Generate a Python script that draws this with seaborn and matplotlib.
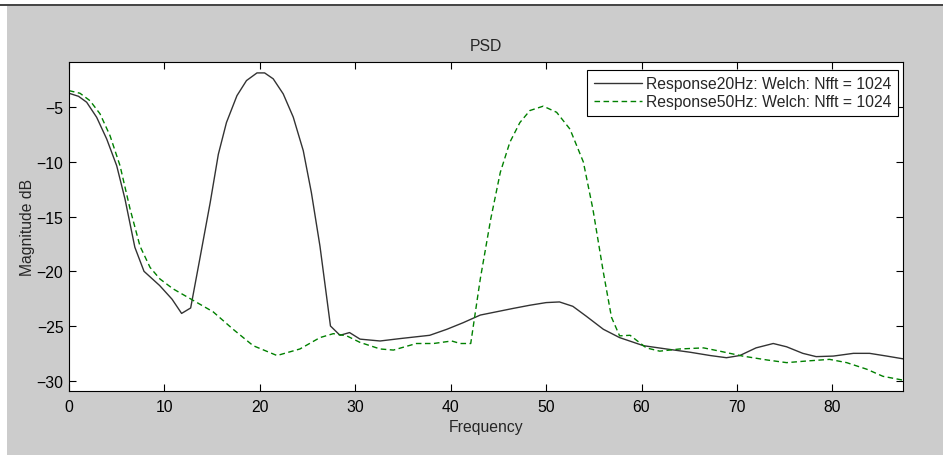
import numpy as np
import pandas as pd
import seaborn as sns
import matplotlib.pyplot as plt
from matplotlib.patches import Rectangle
from matplotlib.lines import Line2D

## DATA
freq_20 = [0, 1.0, 1.85, 2.9, 3.95, 5.0, 5.87, 6.9, 7.86, 9.5, 10.8, 11.8, 12.75,
           13.7, 14.8, 15.65, 16.5, 17.6, 18.6, 19.7, 20.5, 21.4, 22.45, 23.5,
           24.55, 25.4, 26.3, 27.4, 28.4, 29.4, 30.5, 32.6, 34.7, 37.8, 39.6,
           41.3, 43.1, 44.8, 46.5, 48.3, 50.0, 51.4, 52.8, 54.2, 56.0, 57.7,
           60.2, 62.6, 65.1, 67.2, 68.9, 70.3, 72.0, 73.8, 75.2, 76.9, 78.3,
           80.1, 82.2, 83.9, 85.7, 87.4]
psd_20 = [-3.72, -4.0, -4.54, -5.92, -7.9, -10.35, -13.4, -17.8, -20.0, -21.3,
          -22.55, -23.85, -23.35, -18.9, -13.7, -9.3, -6.4, -3.94, -2.56, -1.86,
          -1.86, -2.4, -3.78, -5.9, -8.97, -12.8, -17.7, -25.0, -25.85, -25.6,
          -26.2, -26.37, -26.15, -25.85, -25.3, -24.7, -24.0, -23.7, -23.4,
          -23.1, -22.86, -22.8, -23.2, -24.1, -25.3, -26.06, -26.8, -27.1,
          -27.4, -27.7, -27.9, -27.7, -27.0, -26.6, -26.9, -27.5, -27.8,
          -27.75, -27.5, -27.5, -27.75, -28.0]

freq_50 = [0, 1.15, 2.2, 3.25, 4.3, 5.35, 6.4, 7.44, 8.5, 9.53, 10.9, 12.7,
           15.1, 17.2, 19.3, 21.8, 24.2, 26.3, 27.7, 29.1, 30.5, 32.6, 34.0,
           36.4, 38.2, 40.1, 41.0, 42.1, 43.1, 44.2, 45.2, 46.2, 47.25, 48.3,
           49.7, 51.1, 52.5, 53.9, 54.9, 56.0, 56.85, 57.7, 58.8, 60.5, 61.9,
           64.0, 66.5, 68.2, 70.6, 73.1, 75.2, 77.3, 79.7, 81.5, 83.6, 85.3,
           87.4]
psd_50 = [-3.48, -3.72, -4.4, -5.6, -7.6, -10.35, -14.3, -17.7, -19.65, -20.7,
          -21.6, -22.5, -23.7, -25.3, -26.8, -27.7, -27.1, -26.06, -25.7,
          -25.9, -26.5, -27.1, -27.2, -26.6, -26.6, -26.37, -26.6, -26.6,
          -20.7, -15.2, -10.95, -8.2, -6.4, -5.3, -4.9, -5.46, -7.0, -10.0,
          -14.3, -20.1, -24.2, -25.9, -25.85, -27.0, -27.3, -27.1, -27.0,
          -27.3, -27.75, -28.1, -28.35, -28.2, -28.05, -28.35, -28.95, -29.6,
          -29.95]

label_20 = "Response20Hz: Welch: Nfft = 1024"
label_50 = "Response50Hz: Welch: Nfft = 1024"

df_20 = pd.DataFrame({"Frequency": freq_20, "Magnitude dB": psd_20})
df_50 = pd.DataFrame({"Frequency": freq_50, "Magnitude dB": psd_50})

## STYLE
sns.set_style("ticks")
plt.rcParams["font.family"] = ["Liberation Sans", "DejaVu Sans"]
fs = 11.3
plt.rcParams["font.size"] = fs

fig = plt.figure(figsize=(9.43, 4.56), dpi=100, facecolor="white")
# gray matlab-like figure area, kept behind the axes
fig.patches.append(Rectangle((7 / 943, 0), 1, 1 - 7 / 456, transform=fig.transFigure,
                             facecolor="#cccccc", edgecolor="none", zorder=-10))
fig.lines.append(Line2D([0, 1], [1 - 5.5 / 456, 1 - 5.5 / 456], transform=fig.transFigure,
                        color="#222222", linewidth=1.2, zorder=-9))

ax = fig.add_axes([69 / 943, 1 - 392.3 / 456, 834 / 943, 329 / 456])
ax.set_facecolor("white")

sns.lineplot(data=df_20, x="Frequency", y="Magnitude dB", ax=ax, color="#333333",
             linewidth=1.0, label=label_20)
sns.lineplot(data=df_50, x="Frequency", y="Magnitude dB", ax=ax, color="#008000",
             linewidth=1.0, linestyle=(0, (4, 2.5)), label=label_50)

ax.set_xlim(0, 87.4)
ax.set_ylim(-30.97, -0.89)
ax.set_xticks(np.arange(0, 81, 10))
ax.set_yticks(np.arange(-30, -4, 5))
ax.tick_params(direction="in", length=5, width=0.8, top=True, right=True,
               labelsize=fs, colors="black")
ax.tick_params(axis="x", pad=5.5)
ax.tick_params(axis="y", pad=4)
for s in ax.spines.values():
    s.set_visible(True)
    s.set_linewidth(0.8)
    s.set_color("black")

ax.set_title("PSD", fontsize=fs, pad=8.5)
ax.set_xlabel("Frequency", fontsize=fs, labelpad=4)
ax.set_ylabel("Magnitude dB", fontsize=fs, labelpad=1)

leg = ax.legend(loc="upper right", bbox_to_anchor=(0.994, 0.9766), fancybox=False,
                framealpha=1, edgecolor="black", fontsize=fs, handlelength=3.05,
                borderpad=0.4, labelspacing=0.2, borderaxespad=0, handletextpad=0.3)
leg.get_frame().set_linewidth(0.8)

fig.savefig("out.png", dpi=100, facecolor=fig.get_facecolor())
